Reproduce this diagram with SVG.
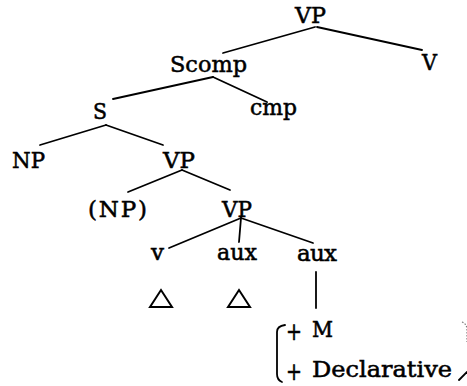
<svg xmlns="http://www.w3.org/2000/svg" width="467" height="386" viewBox="0 0 467 386">
<style>
text { font-family: "DejaVu Serif", "Liberation Serif", serif; font-size: 23px; fill: #000; stroke: #000; stroke-width: 0.55; }
.plus { font-size: 25px; }
.e { stroke: #000; stroke-width: 1.8; fill: none; stroke-linecap: round; }
.tri { stroke: #000; stroke-width: 2; fill: none; stroke-linejoin: miter; }
</style>
<rect width="467" height="386" fill="#fff"/>
<g id="connectors">
<line class="e" x1="315" y1="27" x2="223" y2="53"/>
<line class="e" x1="317" y1="27" x2="422" y2="50"/>
<line class="e" x1="213" y1="77" x2="113" y2="99"/>
<line class="e" x1="213" y1="77" x2="267" y2="102"/>
<line class="e" x1="106" y1="125" x2="40" y2="145"/>
<line class="e" x1="106" y1="125" x2="163" y2="145"/>
<line class="e" x1="182" y1="170" x2="128" y2="192"/>
<line class="e" x1="182" y1="170" x2="230" y2="190"/>
<line class="e" x1="241" y1="218" x2="169" y2="248"/>
<line class="e" x1="241" y1="218" x2="239" y2="242"/>
<line class="e" x1="241" y1="218" x2="313" y2="243"/>
<line class="e" x1="316" y1="272" x2="316" y2="308"/>
</g>
<g id="n-vp-top"><text x="295" y="23" textLength="31" lengthAdjust="spacingAndGlyphs">VP</text></g>
<g id="n-v-top"><text x="422" y="70" textLength="15" lengthAdjust="spacingAndGlyphs">V</text></g>
<g id="n-scomp"><text x="170" y="72" textLength="77" lengthAdjust="spacingAndGlyphs">Scomp</text></g>
<g id="n-cmp"><text x="250" y="115" textLength="47" lengthAdjust="spacingAndGlyphs">cmp</text></g>
<g id="n-s"><text x="93" y="119" textLength="14" lengthAdjust="spacingAndGlyphs">S</text></g>
<g id="n-np"><text x="12" y="168" textLength="33" lengthAdjust="spacingAndGlyphs">NP</text></g>
<g id="n-vp-mid"><text x="163" y="168" textLength="32" lengthAdjust="spacingAndGlyphs">VP</text></g>
<g id="n-np-opt"><text x="88" y="217" textLength="59" lengthAdjust="spacing">(NP)</text></g>
<g id="n-vp-low"><text x="222" y="217" textLength="30" lengthAdjust="spacingAndGlyphs">VP</text></g>
<g id="n-v"><text x="151" y="260" textLength="13" lengthAdjust="spacingAndGlyphs">v</text>
<polygon class="tri" points="150,307 161,290 172,307"/></g>
<g id="n-aux1"><text x="217" y="260" textLength="40" lengthAdjust="spacingAndGlyphs">aux</text>
<polygon class="tri" points="228,307 239,290 250,307"/></g>
<g id="n-aux2"><text x="297" y="261" textLength="40" lengthAdjust="spacing">aux</text></g>
<g id="n-features">
<path class="e" d="M285,325 Q277,326 277,332 L277,374 Q277,380 282,382"/>
<path d="M462,322 Q467,324 467,330 L467,342" stroke="#777" stroke-width="1.2" stroke-dasharray="1.5,1.5" fill="none"/>
<path class="e" d="M459,380 L467,372"/>
<text class="plus" x="286" y="340" textLength="16" lengthAdjust="spacingAndGlyphs">+</text>
<text x="312" y="337" textLength="21" lengthAdjust="spacingAndGlyphs">M</text>
<text class="plus" x="286" y="380" textLength="16" lengthAdjust="spacingAndGlyphs">+</text>
<text x="312" y="377" textLength="140" lengthAdjust="spacingAndGlyphs">Declarative</text>
</g>
</svg>
